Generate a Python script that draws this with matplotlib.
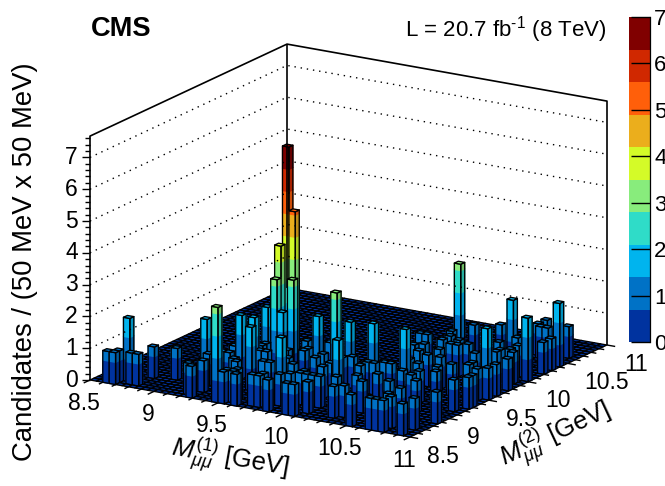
import numpy as np
import matplotlib
matplotlib.use("Agg")
import matplotlib.pyplot as plt
from matplotlib.collections import PolyCollection, LineCollection

plt.rcParams['font.family'] = 'Liberation Sans'
plt.rcParams['mathtext.fontset'] = 'custom'
plt.rcParams['mathtext.rm'] = 'Liberation Sans'
plt.rcParams['mathtext.it'] = 'Liberation Sans:italic'
plt.rcParams['mathtext.bf'] = 'Liberation Sans:bold'

# taller bins: bin index along M(1), along M(2), candidates
tall_m1 = [19,20,19,19,21,36,20,4,13,19,26,20,16,18,17,25,29,33,43,49,49,47,38,33,30]
tall_m2 = [18,18,16,15,16,34,15,2,7,0,5,7,11,11,16,16,14,8,36,38,30,23,17,17,16]
tall_n  = [7,5,4,3,3,3,2,2,2,3,2,2,2,2,2,2,3,2,2,2,2,2,2,2,2]
# bins holding one candidate
one_m1 = [2,3,3,5,6,6,9,15,15,20,22,24,27,30,31,27,22,32,16,19,15,20,21,25,18,19,23,24,28,29,27,24,25,34,30,32,36,
          44,45,48,40,37,45,49,49,46,48,49,49,49,48,49,49,48,44,43,45,40,48,49,45,44,44,44,38,38,40,43,44,46,46,39,35,34,36,39,40,41,44,37,33,37,31,
          14,14,15,18,21,25,18,20,22,22,26,24,27,30,31,30,29,37,
          36,30,36,41,35,34,34,42,44,42,40,41,48,39,37,39,36,37,38,46,44,44,46,47,47]
one_m2 = [0,0,1,1,1,5,6,0,3,0,0,1,0,0,0,3,18,2,8,5,11,1,2,2,14,11,7,10,4,5,12,15,19,6,11,5,2,
          43,40,42,38,36,34,34,36,28,28,20,22,25,13,15,16,0,0,0,0,0,3,7,2,6,10,15,6,10,13,17,19,20,21,21,24,29,32,27,27,28,25,28,29,15,15,
          1,6,8,6,1,1,13,11,7,13,8,14,14,9,5,5,6,3,
          8,14,15,8,14,14,12,12,3,14,17,21,19,29,30,24,25,22,18,27,31,41,40,31,29]
# colour bands of the scale, low to high
band_colors = ['#00339f','#0072c6','#00b4ee','#2fdcc8','#88ec7c','#d4fb28','#ebae1c','#ff5f0a','#d02800','#800000']
z_labels = [0,1,2,3,4,5,6,7]
x_labels = ['8.5','9','9.5','10','10.5','11']
y_labels = ['8.5','9','9.5','10','10.5','11']
n_bins = 50
band_step = 0.7
z_top = 7.67

W, H = 665, 486
fig = plt.figure(figsize=(W/100, H/100), dpi=100)
ax = fig.add_axes([0, 0, 1, 1])
ax.set_xlim(0, W); ax.set_ylim(H, 0); ax.axis('off')

def proj(u, v, z=0.0):
    """u, v in bins, z in candidates -> picture position"""
    return (90 + u*6.4 + v*3.94, 380 + u*1.14 - v*1.84 - z*31.8)

def shade(c, f):
    return tuple(f*a for a in matplotlib.colors.to_rgb(c))

# box
box = [[proj(0,0),proj(0,0,z_top),proj(0,n_bins,z_top),proj(n_bins,n_bins,z_top),proj(n_bins,n_bins)],
       [proj(0,n_bins),proj(0,n_bins,z_top)]]
ax.add_collection(LineCollection(box, colors='k', linewidths=1.2))
for z in range(1, 8):
    ax.plot(*zip(proj(0,0,z),proj(0,n_bins,z),proj(n_bins,n_bins,z)), color='k', lw=1.0, ls=(0,(1,3.5)))

# axis ticks
tk = []
for k in range(0, 39):
    z = k*0.2
    L = 8 if k % 5 == 0 else 5
    p = proj(0,0,z); tk.append([p,(p[0]-L,p[1])])
for k in range(0, 26):
    L = 1.6 if k % 5 == 0 else 1.0
    u = k*2
    tk.append([proj(u,0),proj(u,-L)])
    tk.append([proj(n_bins,u),proj(n_bins+L*0.8,u)])
ax.add_collection(LineCollection(tk, colors='k', linewidths=1.0))

# bars
grid = np.zeros((n_bins, n_bins))
for a, b in zip(one_m1, one_m2):
    grid[a, b] = 1
for a, b, c in zip(tall_m1, tall_m2, tall_n):
    grid[a, b] = c

polys, fcs, ecs = [], [], []
for v in range(n_bins-1, -1, -1):
    for u in range(n_bins):
        h = grid[u, v]
        if h > 0:
            levels = [l*band_step for l in range(11) if l*band_step < h] + [h]
            for b in range(len(levels)-1):
                z0, z1 = levels[b], levels[b+1]
                c = band_colors[min(b, 9)]
                polys.append([proj(u,v,z0),proj(u+1,v,z0),proj(u+1,v,z1),proj(u,v,z1)])
                fcs.append(shade(c,1.0)); ecs.append(shade(c,1.0))
                polys.append([proj(u+1,v,z0),proj(u+1,v+1,z0),proj(u+1,v+1,z1),proj(u+1,v,z1)])
                fcs.append(shade(c,0.8)); ecs.append(shade(c,0.8))
            polys.append([proj(u,v),proj(u+1,v),proj(u+1,v,h),proj(u,v,h)])
            fcs.append((0,0,0,0)); ecs.append('k')
            polys.append([proj(u+1,v),proj(u+1,v+1),proj(u+1,v+1,h),proj(u+1,v,h)])
            fcs.append((0,0,0,0)); ecs.append('k')
        t = band_colors[min(int(np.ceil(h/band_step))-1, 9)] if h > 0 else band_colors[0]
        polys.append([proj(u,v,h),proj(u+1,v,h),proj(u+1,v+1,h),proj(u,v+1,h)])
        fcs.append(t); ecs.append('k')
ax.add_collection(PolyCollection(polys, facecolors=fcs, edgecolors=ecs, linewidths=0.95))

# labels
for z in z_labels:
    p = proj(0,0,z)
    ax.text(78, p[1], str(z), ha='right', va='center', fontsize=16.5)
for k, s in enumerate(x_labels):
    p = proj(k*10,0)
    ax.text(p[0]-6, p[1]+23, s, ha='center', va='center', fontsize=16.5)
for k, s in enumerate(y_labels):
    p = proj(n_bins,k*10)
    ax.text(p[0]+17, p[1]+19, s, ha='left', va='center', fontsize=16.5)

ax.text(25, 262, 'Candidates / (50 MeV x 50 MeV)', rotation=90, ha='center', va='center', fontsize=19.8)
ax.text(230, 459, r'$M_{\mu\mu}^{(1)}$ [GeV]', rotation=-10, ha='center', va='center', fontsize=18.5, rotation_mode='anchor')
ax.text(556, 435, r'$M_{\mu\mu}^{(2)}$ [GeV]', rotation=25, ha='center', va='center', fontsize=18.5, rotation_mode='anchor')
ax.text(91, 29, 'CMS', fontweight='bold', ha='left', va='center', fontsize=19.6)
ax.text(606, 30, 'L = 20.7 fb$^{\u20101}$ (8 TeV)', ha='right', va='center', fontsize=16)

# colour scale
cb = fig.add_axes([629/W, 1-342/H, 21/W, 325/H])
cb.set_xlim(0,1); cb.set_ylim(0,7)
for b, c in enumerate(band_colors):
    cb.bar(0.5, band_step, width=1, bottom=b*band_step, color=c, lw=0)
cb.set_xticks([])
cb.yaxis.tick_right()
cb.set_yticks(z_labels)
cb.set_yticklabels([str(z) for z in z_labels], fontsize=16)
cb.tick_params(axis='y', direction='in', length=14, width=1.0, pad=3)
for s in ['top','left','bottom']:
    cb.spines[s].set_visible(False)
cb.spines['right'].set_linewidth(0.9)
fig.savefig('out.png', dpi=100)
